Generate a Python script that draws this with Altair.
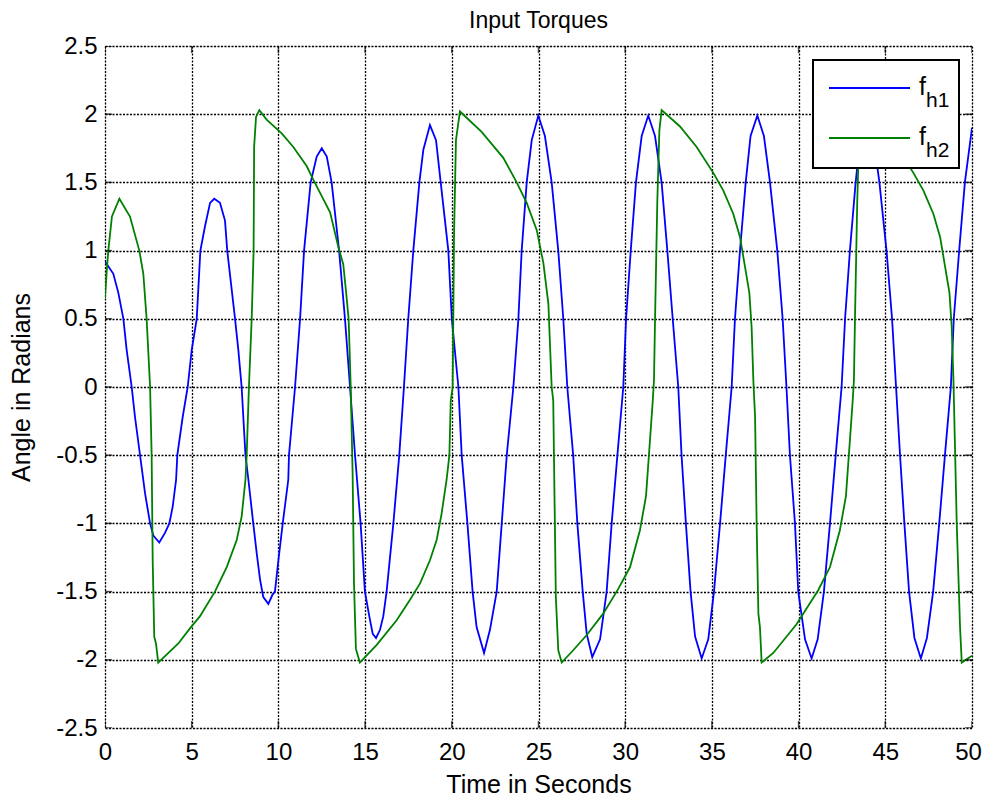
import altair as alt
import pandas as pd

# ---- data ----
blue_t = [0, 0.48, 0.77, 1.06, 1.25, 1.54, 1.73, 2.02, 2.31, 2.6, 2.79, 3.13, 3.46, 3.71, 3.9, 4.1,
          4.17, 4.48, 4.77, 5.0, 5.29, 5.5, 5.77, 6.06, 6.3, 6.63, 6.92, 7.05, 7.5, 7.69, 7.88, 8.1,
          8.27, 8.55, 8.75, 8.94, 9.13, 9.42, 9.67, 9.8, 10.0, 10.25, 10.57, 10.61, 10.96, 11.25, 11.48,
          11.86, 12.21, 12.5, 12.79, 13.07, 13.5, 13.84, 14.13, 14.42, 14.74, 14.99, 15.24, 15.44, 15.63,
          15.86, 16.05, 16.24, 16.63, 16.97, 17.24, 17.49, 17.78, 18.13, 18.36, 18.74, 19.09, 19.36, 19.8,
          20.0, 20.38, 20.57, 20.9, 21.2, 21.43, 21.86, 22.2, 22.59, 22.88, 23.17, 23.55, 23.84, 24.03,
          24.32, 24.61, 24.99, 25.37, 25.76, 26.14, 26.43, 26.66, 27.0, 27.24, 27.55, 27.78, 28.1, 28.55,
          28.93, 29.22, 29.55, 29.89, 30.05, 30.32, 30.62, 30.95, 31.33, 31.72, 32.1, 32.43, 32.74, 33.06,
          33.25, 33.5, 33.77, 34.03, 34.41, 34.79, 35.12, 35.47, 35.8, 36.14, 36.33, 36.62, 36.95, 37.23,
          37.62, 38.0, 38.35, 38.77, 39.08, 39.3, 39.5, 39.79, 39.98, 40.37, 40.75, 41.1, 41.46, 41.81,
          42.14, 42.48, 42.68, 42.96, 43.29, 43.57, 43.93, 44.3, 44.66, 45.07, 45.39, 45.62, 45.85, 46.1,
          46.37, 46.68, 47.05, 47.4, 47.76, 48.11, 48.44, 48.78, 48.95, 49.26, 49.59, 50.0]
blue_v = [0.92, 0.83, 0.69, 0.5, 0.27, 0.0, -0.22, -0.5, -0.78, -1.0, -1.09, -1.14, -1.07, -1.0, -0.88, -0.68,
          -0.5, -0.22, 0.0, 0.27, 0.5, 1.0, 1.18, 1.35, 1.38, 1.35, 1.22, 1.0, 0.5, 0.27, 0.0, -0.5,
          -0.68, -1.0, -1.22, -1.41, -1.54, -1.59, -1.52, -1.5, -1.27, -1.0, -0.68, -0.5, 0.0, 0.5, 1.0,
          1.5, 1.69, 1.75, 1.69, 1.5, 1.0, 0.5, 0.0, -0.5, -1.0, -1.5, -1.68, -1.81, -1.84,
          -1.78, -1.68, -1.5, -1.0, -0.5, 0.0, 0.5, 1.0, 1.5, 1.74, 1.92, 1.81, 1.5, 1.0,
          0.5, 0.0, -0.5, -1.0, -1.5, -1.76, -1.95, -1.78, -1.5, -1.0, -0.5, 0.0, 0.5, 1.0,
          1.5, 1.81, 1.99, 1.84, 1.5, 1.0, 0.5, 0.0, -0.5, -1.0, -1.5, -1.81, -1.98, -1.85,
          -1.5, -1.0, -0.5, 0.0, 0.5, 1.0, 1.5, 1.84, 1.99, 1.84, 1.5, 1.0, 0.5, 0.0,
          -0.5, -1.0, -1.5, -1.83, -1.99, -1.85, -1.5, -1.0, -0.5, 0.0, 0.5, 1.0, 1.5, 1.84,
          1.99, 1.84, 1.5, 1.0, 0.5, 0.0, -0.5, -1.0, -1.5, -1.85, -1.99, -1.85, -1.5, -1.0,
          -0.5, 0.0, 0.5, 1.0, 1.5, 1.84, 1.99, 1.84, 1.5, 1.0, 0.5, 0.0, -0.5, -1.0,
          -1.5, -1.84, -1.99, -1.84, -1.5, -1.0, -0.5, 0.0, 0.5, 1.0, 1.5, 1.9]

green_t = [0, 0.1, 0.19, 0.4, 0.83, 1.44, 1.98, 2.21, 2.4, 2.6, 2.69, 2.75, 2.84, 2.94, 3.07, 4.23, 4.9,
           5.48, 6.34, 7.02, 7.6, 7.88, 8.1, 8.17, 8.3, 8.46, 8.57, 8.6, 8.71, 8.9, 9.32, 10.19, 10.86,
           11.63, 12.01, 12.5, 12.98, 13.45, 13.74, 13.9, 14.05, 14.17, 14.28, 14.36, 14.47, 14.7, 15.67,
           16.82, 17.59, 18.17, 18.74, 19.13, 19.41, 19.7, 19.86, 19.94, 20.05, 20.13, 20.24, 20.47,
           21.72, 22.97, 23.74, 24.32, 24.9, 25.28, 25.57, 25.76, 25.85, 26.0, 26.14, 26.34, 27.0, 27.77,
           28.74, 29.6, 30.28, 30.85, 31.2, 31.39, 31.59, 31.66, 31.72, 31.85, 31.97, 32.1, 33.16, 34.12,
           35.08, 35.66, 36.23, 36.62, 36.91, 37.16, 37.29, 37.39, 37.49, 37.58, 37.68, 37.77, 37.87,
           38.54, 39.88, 41.13, 41.81, 42.38, 42.73, 42.92, 43.12, 43.19, 43.25, 43.38, 43.5, 43.63,
           44.7, 45.66, 46.62, 47.2, 47.77, 48.16, 48.45, 48.7, 48.83, 48.93, 49.12, 49.31, 49.41, 50.0]
green_v = [0.65, 0.85, 1.0, 1.25, 1.38, 1.25, 1.0, 0.83, 0.5, 0.0, -0.5, -1.27, -1.83, -1.88, -2.02, -1.88, -1.77,
           -1.68, -1.5, -1.32, -1.12, -0.95, -0.68, -0.5, 0.0, 0.5, 1.0, 1.76, 1.98, 2.03, 1.96, 1.86, 1.76,
           1.62, 1.52, 1.40, 1.28, 1.03, 0.9, 0.7, 0.5, 0.0, -0.63, -1.44, -1.92, -2.02, -1.89,
           -1.71, -1.56, -1.44, -1.27, -1.12, -0.93, -0.68, -0.5, -0.1, 0.0, 1.13, 1.81, 2.02,
           1.87, 1.68, 1.5, 1.35, 1.15, 0.91, 0.61, 0.0, -0.1, -1.54, -1.93, -2.02, -1.93, -1.82,
           -1.66, -1.48, -1.32, -1.05, -0.8, -0.46, -0.1, 0.05, 0.49, 1.35, 1.88, 2.03, 1.91, 1.76,
           1.57, 1.44, 1.27, 1.10, 0.88, 0.69, 0.44, 0.05, -0.22, -1.0, -1.66, -1.76, -2.02,
           -1.95, -1.74, -1.49, -1.32, -1.05, -0.8, -0.46, -0.1, 0.05, 0.49, 1.35, 1.88, 2.03,
           1.91, 1.76, 1.57, 1.44, 1.27, 1.10, 0.88, 0.69, 0.44, 0.05, -1.0, -1.76, -2.02, -1.97]

x_ticks = [0, 5, 10, 15, 20, 25, 30, 35, 40, 45, 50]
y_ticks = [-2.5, -2, -1.5, -1, -0.5, 0, 0.5, 1, 1.5, 2, 2.5]
series_names = ["f_h1", "f_h2"]
series_colors = ["#0000ff", "#008000"]

df = pd.concat([
    pd.DataFrame({"t": blue_t, "v": blue_v, "series": series_names[0]}),
    pd.DataFrame({"t": green_t, "v": green_v, "series": series_names[1]}),
])

FONT = "Liberation Sans"
W, H = 867, 682

xs = alt.Scale(domain=[0, 50], nice=False, zero=False)
ys = alt.Scale(domain=[-2.5, 2.5], nice=False, zero=False)

lines = alt.Chart(df).mark_line(strokeWidth=1.8, clip=True).encode(
    x=alt.X("t:Q", scale=xs, axis=alt.Axis(
        values=x_ticks, title="Time in Seconds", grid=True, gridDash=[2, 1.5], gridColor="black",
        gridOpacity=1, gridWidth=1.3, tickSize=0, domain=False, labelPadding=12, labelFlush=False,
        labelOffset={"condition": {"test": "datum.value === 50", "value": -4}, "value": 0},
        labelExpr="datum.value + ''", labelFontSize=24, labelFont=FONT, labelColor="black",
        titleFont=FONT, titleFontSize=25, titleFontWeight="normal", titleColor="black", titlePadding=8)),
    y=alt.Y("v:Q", scale=ys, axis=alt.Axis(
        values=y_ticks, title="Angle in Radians", grid=True, gridDash=[2, 1.5], gridColor="black",
        gridOpacity=1, gridWidth=1.3, tickSize=0, domain=False, labelPadding=8, labelFlush=False,
        labelExpr="datum.value + ''", labelFontSize=24, labelFont=FONT, labelColor="black",
        titleFont=FONT, titleFontSize=25, titleFontWeight="normal", titleColor="black", titlePadding=21)),
    color=alt.Color("series:N", scale=alt.Scale(domain=series_names, range=series_colors), legend=None),
    detail="series:N",
)

# inward tick marks on all four sides
xt = pd.DataFrame({"t": x_ticks * 2, "v": [-2.5] * len(x_ticks) + [2.5] * len(x_ticks)})
yt = pd.DataFrame({"t": [0] * len(y_ticks) + [50] * len(y_ticks), "v": y_ticks * 2})
xtick_layer = alt.Chart(xt).mark_tick(orient="vertical", size=14, thickness=1.5, color="black", clip=True).encode(
    x=alt.X("t:Q", scale=xs), y=alt.Y("v:Q", scale=ys))
ytick_layer = alt.Chart(yt).mark_tick(orient="horizontal", size=14, thickness=1.5, color="black", clip=True).encode(
    x=alt.X("t:Q", scale=xs), y=alt.Y("v:Q", scale=ys))

# legend box drawn by hand (subscripts)
one = pd.DataFrame({"a": [0]})
leg_box = alt.Chart(one).mark_rect(fill="white", stroke="black", strokeWidth=2).encode(
    x=alt.value(708), x2=alt.value(854), y=alt.value(14), y2=alt.value(122))
leg_line1 = alt.Chart(one).mark_rule(color=series_colors[0], strokeWidth=1.8).encode(
    x=alt.value(724), x2=alt.value(805), y=alt.value(42))
leg_line2 = alt.Chart(one).mark_rule(color=series_colors[1], strokeWidth=1.8).encode(
    x=alt.value(724), x2=alt.value(805), y=alt.value(92))
leg_f1 = alt.Chart(one).mark_text(text="f", font=FONT, fontSize=25, align="left", baseline="alphabetic").encode(
    x=alt.value(814), y=alt.value(49))
leg_s1 = alt.Chart(one).mark_text(text="h1", font=FONT, fontSize=21, align="left", baseline="alphabetic").encode(
    x=alt.value(821), y=alt.value(61))
leg_f2 = alt.Chart(one).mark_text(text="f", font=FONT, fontSize=25, align="left", baseline="alphabetic").encode(
    x=alt.value(814), y=alt.value(99))
leg_s2 = alt.Chart(one).mark_text(text="h2", font=FONT, fontSize=21, align="left", baseline="alphabetic").encode(
    x=alt.value(821), y=alt.value(111))

chart = alt.layer(
    lines, xtick_layer, ytick_layer, leg_box, leg_line1, leg_line2, leg_f1, leg_s1, leg_f2, leg_s2
).properties(
    width=W, height=H,
    title=alt.TitleParams("Input Torques", font=FONT, fontSize=23, fontWeight="normal", color="black",
                          anchor="middle", offset=1),
    padding={"left": 97, "top": 38, "right": 10, "bottom": 68},
    autosize=alt.AutoSizeParams(type="none"),
).configure_view(stroke="black", strokeWidth=2).configure(background="white")

chart.save("out.html", embed_options={"renderer": "svg", "actions": False})
